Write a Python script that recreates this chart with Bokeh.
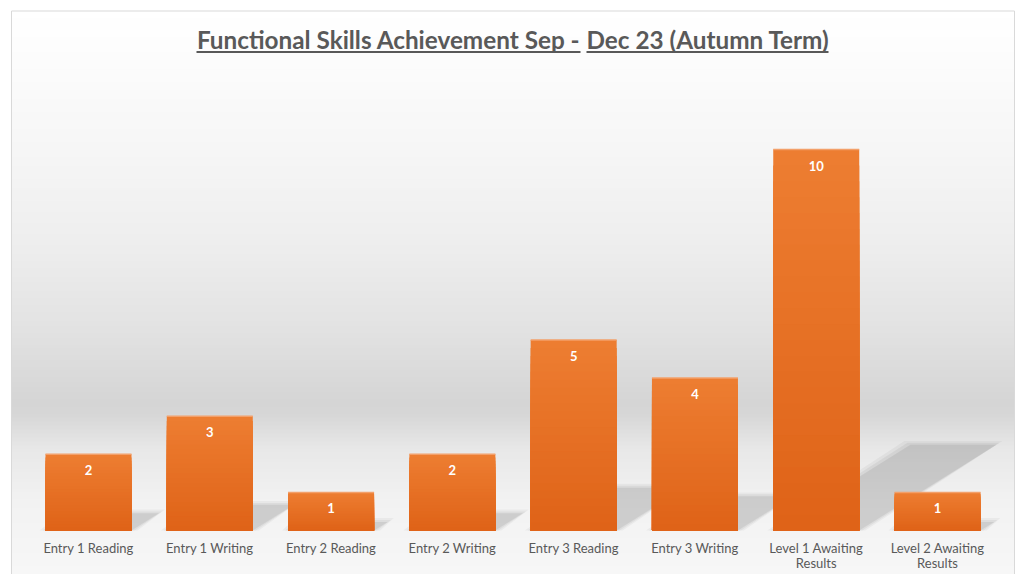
import numpy as np
from bokeh.plotting import figure
from bokeh.models import Range1d
from bokeh.core.properties import value
from bokeh.embed import file_html
from bokeh.resources import INLINE

# ---------------- data ----------------
categories = ["Entry 1 Reading", "Entry 1 Writing", "Entry 2 Reading", "Entry 2 Writing",
              "Entry 3 Reading", "Entry 3 Writing", "Level 1 Awaiting\nResults",
              "Level 2 Awaiting\nResults"]
counts = [2, 3, 1, 2, 5, 4, 10, 1]
title_left = "Functional Skills Achievement Sep -"
title_right = "Dec 23 (Autumn Term)"

# ---------------- layout (pixels) ----------------
W, H = 1021, 574
X0_PX = 88.0       # centre of first category
STEP_PX = 121.29   # category spacing
BASE_PX = 530.0    # baseline
UNIT_PX = 38.1     # pixels per count
BAR_W = 0.709

x_start = -X0_PX / STEP_PX
x_end = x_start + W / STEP_PX
y_end = BASE_PX / UNIT_PX
y_start = -(H - BASE_PX) / UNIT_PX


def dx(px):
    return x_start + px / STEP_PX


def dy(py):
    return (BASE_PX - py) / UNIT_PX


p = figure(width=W, height=H, x_range=Range1d(x_start, x_end), y_range=Range1d(y_start, y_end),
           output_backend="svg", toolbar_location=None, min_border=0,
           x_axis_location=None, y_axis_location=None)
p.grid.visible = False
p.outline_line_color = None
p.background_fill_color = "white"
p.border_fill_color = "white"

# ---------------- background gradient ----------------
stops_py = [10, 60, 150, 250, 330, 400, 412, 450, 500, 574]
stops_g = [255, 252, 246, 237, 226, 213, 214, 232, 242, 247]
band_top = np.arange(10, 574, 2.0)
g = np.interp(band_top + 1, stops_py, stops_g).round().astype(int)
band_colors = ["#%02x%02x%02x" % (v, v, v) for v in g]
p.quad(left=dx(11), right=dx(1014), top=dy(band_top), bottom=dy(band_top + 2.6),
       fill_color=band_colors, line_color=None)
# chart border
p.quad(left=[dx(11)], right=[dx(1014)], top=[dy(10.5)], bottom=[dy(590)],
       fill_alpha=0, line_color="#d9d9d9", line_width=1)

# ---------------- shadows ----------------
idx = np.arange(len(counts))
vals = np.array(counts, dtype=float)
sh_dx = 0.36 * vals * UNIT_PX / STEP_PX   # horizontal shift of shadow top (data units)
sh_dy = 0.225 * vals                      # vertical rise of shadow top (data units)
for grow, alpha in [(0.05, 0.04), (0.025, 0.05), (0.0, 0.07)]:
    xs, ys = [], []
    for i in range(len(counts)):
        l = idx[i] - BAR_W / 2 - grow
        r = idx[i] + BAR_W / 2 + grow
        xs.append([l, r, r + sh_dx[i], l + sh_dx[i]])
        ys.append([0, 0, sh_dy[i] + grow * 2, sh_dy[i] + grow * 2])
    p.patches(xs=xs, ys=ys, fill_color="black", fill_alpha=alpha, line_color=None)

# ---------------- bars with vertical gradient ----------------
top_rgb = np.array([0xED, 0x7D, 0x31])
bot_rgb = np.array([0xDF, 0x63, 0x18])
K = 24
for k in range(K):
    f = k / (K - 1)
    c = (top_rgb * (1 - f) + bot_rgb * f).round().astype(int)
    p.vbar(x=idx, width=BAR_W, bottom=0, top=vals * (1 - k / K),
           fill_color="#%02x%02x%02x" % tuple(c), line_color=None)
# light top edge
p.segment(x0=idx - BAR_W / 2, x1=idx + BAR_W / 2, y0=vals, y1=vals,
          line_color="#f3a06a", line_width=1.5)

# value labels
p.text(x=idx, y=vals - 16 / UNIT_PX, text=[str(c) for c in counts],
       text_align="center", text_baseline="middle", text_color="white",
       text_font=value("Lato"), text_font_style="bold", text_font_size="13px")

# category labels
p.text(x=idx, y=dy(539.5), text=categories, text_align="center", text_baseline="top",
       text_color="#595959", text_font=value("Lato"), text_font_size="13px",
       text_line_height=0.95)

# ---------------- title ----------------
split_px = 583
title_size = "24.3px"
p.text(x=[dx(split_px - 3)], y=[dy(39)], text=[title_left], text_align="right",
       text_baseline="middle", text_color="#595959", text_font=value("Lato"),
       text_font_style="bold", text_font_size=title_size)
p.text(x=[dx(split_px + 3)], y=[dy(39)], text=[title_right], text_align="left",
       text_baseline="middle", text_color="#595959", text_font=value("Lato"),
       text_font_style="bold", text_font_size=title_size)
p.quad(left=[dx(196), dx(586)], right=[dx(580), dx(828)], top=[dy(50.5), dy(50.5)],
       bottom=[dy(52.5), dy(52.5)], fill_color="#595959", line_color=None)

open("out.html", "w").write(file_html(p, INLINE))
